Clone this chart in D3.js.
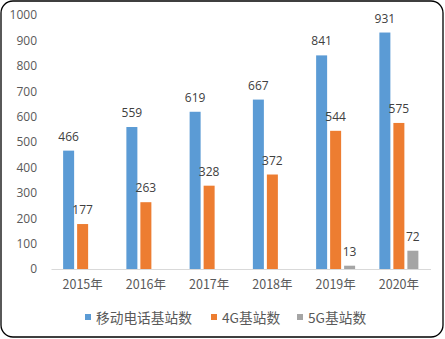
<!DOCTYPE html>
<html><head><meta charset="utf-8">
<script src="https://cdn.jsdelivr.net/npm/d3@7"></script>
<style>body{margin:0;background:#fff}svg{display:block}text{font-family:"Noto Sans CJK SC","DejaVu Sans",sans-serif}</style>
</head><body>
<script>
const categories = ["2015年","2016年","2017年","2018年","2019年","2020年"];
const seriesNames = ["移动电话基站数","4G基站数","5G基站数"];
const mobile = [466,559,619,667,841,931];
const g4 = [177,263,328,372,544,575];
const g5 = [null,null,null,null,13,72];
const yTicks = [0,100,200,300,400,500,600,700,800,900,1000];
const colors = ["#5B9BD5","#ED7D31","#A5A5A5"];
const series = [mobile,g4,g5];

const W=445,H=339;
const svg=d3.select("body").append("svg").attr("width",W).attr("height",H);
svg.append("rect").attr("x",1).attr("y",1).attr("width",W-3).attr("height",H-3).attr("rx",12).attr("fill","#fff").attr("stroke","#000").attr("stroke-width",1.3);

const x=d3.scaleBand().domain(categories).range([51,430.5]);
const y=d3.scaleLinear().domain([0,1000]).range([269,15]);
const bw=11, gap=3;

const yAxis=svg.append("g").attr("transform","translate(44,0)")
  .call(d3.axisLeft(y).tickValues(yTicks).tickFormat(d3.format("d")).tickSize(0).tickPadding(7));
yAxis.select(".domain").remove();
yAxis.selectAll("text").attr("fill","#595959").style("font-size","12px").style("font-family","'Open Sans','DejaVu Sans',sans-serif");

const xAxis=svg.append("g").attr("transform","translate(0,269)")
  .call(d3.axisBottom(x).tickSize(0).tickPadding(11));
xAxis.select(".domain").attr("stroke","#D9D9D9").attr("stroke-width",1.2);
xAxis.selectAll("text").attr("fill","#595959").style("font-size","12.5px");

series.forEach((vals,si)=>{
  const off=(si-1)*(bw+gap)-bw/2;
  const g=svg.append("g");
  categories.forEach((c,i)=>{
    const v=vals[i]; if(v==null) return;
    const cx=x(c)+x.bandwidth()/2+off;
    g.append("rect").attr("x",cx).attr("y",y(v)).attr("width",bw).attr("height",y(0)-y(v)).attr("fill",colors[si]);
    g.append("text").attr("x",cx+bw/2).attr("y",y(v)-10).attr("text-anchor","middle")
      .attr("fill","#404040").style("font-size","12px").style("font-family","'Open Sans','DejaVu Sans',sans-serif").text(v);
  });
});

const legX=[85,211,297];
seriesNames.forEach((n,i)=>{
  svg.append("rect").attr("x",legX[i]).attr("y",314).attr("width",6).attr("height",6).attr("fill",colors[i]);
  svg.append("text").attr("x",legX[i]+11).attr("y",322.5).attr("fill","#595959").style("font-size","13.7px").text(n);
});
</script>
</body></html>
